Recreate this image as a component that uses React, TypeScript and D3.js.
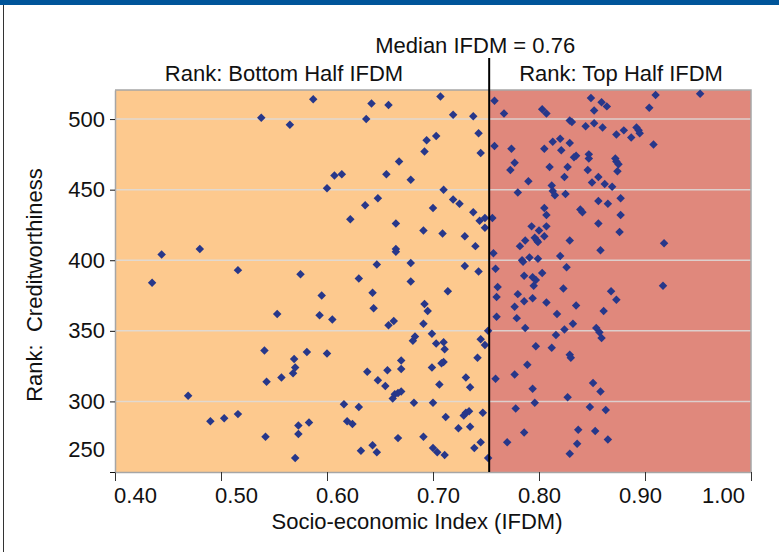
import { useEffect, useRef } from "react";
import * as d3 from "d3";

// socio-economic index (IFDM) of each municipality
const ifdm = [
  0.538, 0.444, 0.48, 0.516, 0.587, 0.642, 0.658, 0.637, 0.565, 0.694,
  0.703, 0.692, 0.668, 0.607, 0.614, 0.656, 0.679, 0.6, 0.648, 0.636,
  0.7, 0.622, 0.665, 0.691, 0.709, 0.665, 0.665, 0.647, 0.679, 0.707,
  0.719, 0.738, 0.743, 0.745, 0.758, 0.767, 0.803, 0.807, 0.849, 0.852,
  0.829, 0.831, 0.844, 0.852, 0.758, 0.774, 0.805, 0.813, 0.82, 0.821,
  0.829, 0.835, 0.833, 0.847, 0.847, 0.777, 0.773, 0.81, 0.827, 0.846,
  0.824, 0.85, 0.856, 0.79, 0.78, 0.812, 0.813, 0.815, 0.825, 0.71,
  0.719, 0.725, 0.738, 0.744, 0.749, 0.749, 0.756, 0.73, 0.74, 0.805,
  0.807, 0.839, 0.841, 0.856, 0.856, 0.793, 0.8, 0.807, 0.805, 0.796,
  0.798, 0.799, 0.787, 0.782, 0.829, 0.757, 0.784, 0.785, 0.791, 0.799,
  0.82, 0.858, 0.73, 0.759, 0.826, 0.864, 0.91, 0.952, 0.904, 0.86,
  0.873, 0.88, 0.887, 0.892, 0.894, 0.895, 0.908, 0.872, 0.873, 0.875,
  0.874, 0.862, 0.869, 0.865, 0.877, 0.877, 0.876, 0.918, 0.435, 0.553,
  0.541, 0.543, 0.557, 0.469, 0.49, 0.503, 0.516, 0.542, 0.575, 0.63,
  0.679, 0.595, 0.643, 0.593, 0.605, 0.644, 0.692, 0.695, 0.658, 0.663,
  0.691, 0.683, 0.681, 0.581, 0.6, 0.569, 0.57, 0.568, 0.67, 0.67,
  0.657, 0.638, 0.648, 0.655, 0.662, 0.664, 0.667, 0.67, 0.682, 0.616,
  0.63, 0.573, 0.583, 0.573, 0.619, 0.624, 0.667, 0.691, 0.643, 0.632,
  0.647, 0.57, 0.743, 0.786, 0.794, 0.797, 0.795, 0.803, 0.714, 0.761,
  0.76, 0.78, 0.786, 0.794, 0.777, 0.807, 0.823, 0.835, 0.76, 0.779,
  0.817, 0.832, 0.824, 0.787, 0.816, 0.752, 0.699, 0.703, 0.71, 0.711,
  0.745, 0.749, 0.797, 0.812, 0.829, 0.83, 0.742, 0.71, 0.708, 0.699,
  0.789, 0.759, 0.777, 0.731, 0.735, 0.706, 0.794, 0.851, 0.7, 0.796,
  0.827, 0.778, 0.848, 0.712, 0.729, 0.731, 0.734, 0.747, 0.724, 0.735,
  0.786, 0.837, 0.853, 0.745, 0.739, 0.77, 0.836, 0.7, 0.704, 0.711,
  0.829, 0.752, 0.917, 0.868, 0.873, 0.861, 0.854, 0.857, 0.859, 0.858,
  0.863, 0.865, 0.859,
];

// creditworthiness rank of the same municipalities
const creditRank = [
  501, 404, 408, 393, 514, 511, 510, 500, 496, 485,
  488, 477, 470, 460, 461, 461, 457, 451, 444, 439,
  437, 429, 426, 421, 419, 408, 406, 397, 398, 516,
  503, 502, 490, 476, 513, 504, 507, 504, 515, 506,
  499, 498, 495, 497, 481, 479, 479, 484, 486, 478,
  483, 474, 473, 475, 472, 469, 464, 466, 466, 464,
  459, 455, 459, 456, 448, 453, 449, 446, 447, 450,
  443, 440, 434, 428, 430, 423, 430, 417, 410, 437,
  432, 436, 434, 442, 426, 424, 421, 424, 417, 416,
  414, 413, 414, 410, 414, 405, 400, 399, 402, 401,
  403, 407, 396, 394, 395, 509, 517, 518, 508, 494,
  489, 492, 487, 494, 492, 490, 482, 472, 470, 468,
  463, 454, 452, 440, 444, 432, 420, 412, 384, 362,
  336, 314, 317, 304, 286, 288, 291, 275, 390, 387,
  385, 375, 377, 361, 358, 366, 369, 364, 354, 357,
  355, 346, 343, 335, 334, 330, 324, 320, 329, 323,
  322, 321, 315, 311, 302, 305, 306, 307, 299, 298,
  296, 283, 285, 277, 286, 284, 274, 275, 269, 265,
  264, 260, 392, 389, 388, 386, 382, 391, 378, 381,
  374, 376, 371, 373, 367, 370, 380, 368, 360, 359,
  362, 355, 351, 352, 347, 350, 348, 341, 342, 337,
  344, 340, 339, 338, 333, 331, 331, 328, 327, 324,
  326, 316, 319, 317, 310, 312, 309, 313, 299, 299,
  303, 295, 296, 289, 290, 292, 293, 292, 281, 282,
  278, 280, 279, 271, 267, 271, 270, 267, 264, 262,
  263, 260, 382, 378, 372, 364, 352, 349, 345, 307,
  294, 273, 512,
];

const xTicks = [0.4, 0.5, 0.6, 0.7, 0.8, 0.9, 1.0];
const yTicks = [250, 300, 350, 400, 450, 500];
const yGrid = [300, 350, 400, 450, 500];
const xDomain = [0.4, 1.0];
const yDomain = [250, 520.6];

// where the dividing line sits, and what its label says
const medianIfdm = 0.753;
const medianLabel = "Median IFDM = 0.76";
const bottomHalfLabel = "Rank: Bottom Half IFDM";
const topHalfLabel = "Rank: Top Half IFDM";
const xTitle = "Socio-economic Index (IFDM)";
const yTitle = "Rank:  Creditworthiness";

export default function App() {
  const ref = useRef<SVGSVGElement>(null);

  useEffect(() => {
    const width = 779;
    const height = 552;
    const left = 115;
    const right = 751;
    const top = 90;
    const bottom = 472;
    const font = "'Liberation Sans', Arial, Helvetica, sans-serif";
    const textColor = "#111";

    const svg = d3.select(ref.current);
    svg.selectAll("*").remove();

    // scales
    const x = d3.scaleLinear().domain(xDomain).range([left, right]);
    const y = d3.scaleLinear().domain(yDomain).range([bottom, top]);
    const xMedian = x(medianIfdm);

    // page frame
    svg.append("rect")
      .attr("width", width).attr("height", height)
      .attr("fill", "#fff");
    svg.append("rect")
      .attr("width", width).attr("height", 5)
      .attr("fill", "#00559a");
    svg.append("line")
      .attr("x1", 3.5).attr("x2", 3.5)
      .attr("y1", 5).attr("y2", height)
      .attr("stroke", "#333");

    // two halves of the plot
    svg.append("rect")
      .attr("x", left).attr("y", top)
      .attr("width", xMedian - left).attr("height", bottom - top)
      .attr("fill", "#fdc98e");
    svg.append("rect")
      .attr("x", xMedian).attr("y", top)
      .attr("width", right - xMedian).attr("height", bottom - top)
      .attr("fill", "#e0887c");

    // gridlines
    svg.append("g")
      .selectAll("line")
      .data(yGrid)
      .join("line")
      .attr("x1", left).attr("x2", right)
      .attr("y1", d => y(d)).attr("y2", d => y(d))
      .attr("stroke", "#dcdcdc")
      .attr("stroke-opacity", 0.85)
      .attr("stroke-width", 1.5);

    // plot border (top + right)
    svg.append("path")
      .attr("d", `M${left},${top}H${right}V${bottom}`)
      .attr("fill", "none")
      .attr("stroke", "#a6a6a6")
      .attr("stroke-width", 1.5);

    // points
    const diamond = d3.symbol().type(d3.symbolSquare).size(36)();
    svg.append("g")
      .selectAll("path")
      .data(d3.range(ifdm.length))
      .join("path")
      .attr("d", diamond)
      .attr("transform", i => `translate(${x(ifdm[i])},${y(creditRank[i])}) rotate(45)`)
      .attr("fill", "#27378a");

    // x axis
    const xAxis = svg.append("g")
      .attr("transform", `translate(0,${bottom})`)
      .call(d3.axisBottom(x).tickValues(xTicks).tickSize(9).tickSizeOuter(0).tickFormat(d3.format(".2f")));
    xAxis.select(".domain").attr("stroke", "#a6a6a6").attr("stroke-width", 1.5);
    xAxis.selectAll(".tick line").attr("stroke", "#333");
    xAxis.selectAll<SVGTextElement, number>(".tick text")
      .attr("font-family", font)
      .attr("font-size", 22)
      .attr("fill", textColor)
      .attr("y", 15)
      // labels drift toward the centre and the last one is kept inside the plot
      .attr("x", d => Math.min(x(d) + (0.8 - d) * 50, right - 28) - x(d));

    // y axis
    const yAxis = svg.append("g")
      .attr("transform", `translate(${left},0)`)
      .call(d3.axisLeft(y).tickValues(yTicks).tickSize(5).tickSizeOuter(0).tickPadding(5));
    yAxis.select(".domain").attr("stroke", "#a6a6a6").attr("stroke-width", 1.5);
    yAxis.selectAll(".tick line").attr("stroke", "#111");
    yAxis.selectAll<SVGTextElement, number>(".tick text")
      .attr("font-family", font)
      .attr("font-size", 22)
      .attr("fill", textColor)
      .attr("y", d => Math.min(0, bottom - 23 - y(d)));

    // median line
    svg.append("line")
      .attr("x1", xMedian).attr("x2", xMedian)
      .attr("y1", 58).attr("y2", bottom)
      .attr("stroke", "#000")
      .attr("stroke-width", 2);

    // labels
    const label = (txt: string, lx: number, ly: number, anchor: string) =>
      svg.append("text")
        .attr("x", lx).attr("y", ly)
        .attr("text-anchor", anchor)
        .attr("font-family", font)
        .attr("font-size", 22)
        .attr("fill", textColor)
        .style("white-space", "pre")
        .text(txt);

    label(medianLabel, xMedian - 14, 53, "middle");
    label(bottomHalfLabel, xMedian - 86, 81, "end");
    label(topHalfLabel, xMedian + 30, 81, "start");
    label(xTitle, 417, 529, "middle");
    label(yTitle, 0, 0, "middle")
      .attr("transform", `translate(42,${(top + bottom) / 2 + 4}) rotate(-90)`);
  }, []);

  return (
    <svg
      ref={ref}
      width={779}
      height={552}
      style={{ position: "absolute", left: 0, top: 0 }}
    />
  );
}
